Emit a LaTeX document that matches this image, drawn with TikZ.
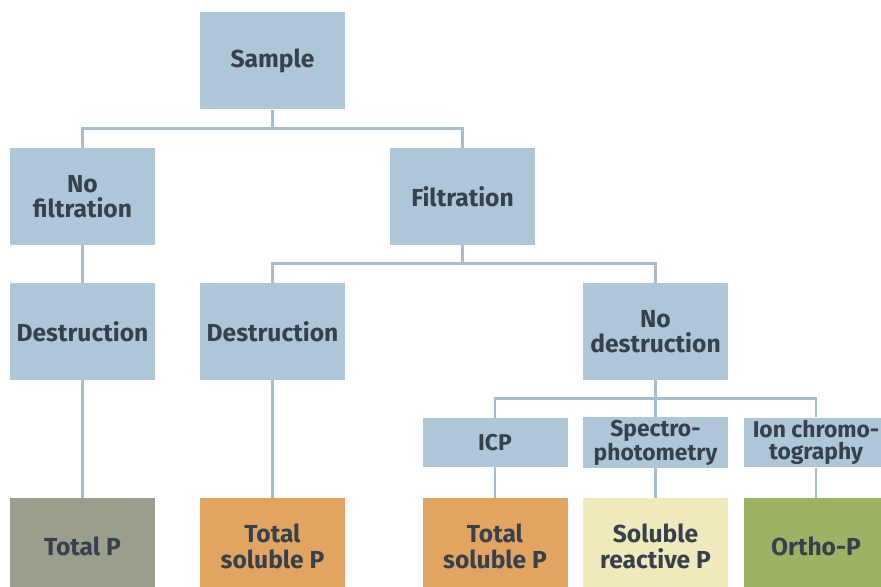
\documentclass[tikz,border=0pt]{standalone}
\usepackage{fontspec}
\setmainfont{Fira Sans}
\usepackage{xcolor}
\usepackage{tikz}
\usetikzlibrary{shapes,positioning}
\definecolor{boxblue}{RGB}{174,199,216}
\definecolor{linkblue}{RGB}{169,188,203}
\definecolor{txt}{RGB}{55,65,78}
\definecolor{totgray}{RGB}{155,157,141}
\definecolor{solorange}{RGB}{226,164,97}
\definecolor{reacyellow}{RGB}{239,233,187}
\definecolor{orthogreen}{RGB}{157,179,100}
\tikzset{stepbox/.style={rectangle,fill=boxblue,text=txt,minimum width=2.9cm,minimum height=1.94cm,inner sep=0.05cm,align=center,font=\fontsize{14}{14.5}\selectfont\bfseries},
         methbox/.style={stepbox,minimum height=0.98cm,font=\fontsize{13}{12.5}\selectfont\bfseries},
         link/.style={draw=linkblue,line width=1.6pt}}

\begin{document}
\begin{tikzpicture}
        \useasboundingbox (0,0) rectangle (17.62,11.72);

        \node[stepbox] (sample) at (5.45,10.5) {Sample};
        \node[stepbox] (nofilt) at (1.65,7.79) {No\\filtration};
        \node[stepbox] (filt) at (9.25,7.79) {Filtration};
        \node[stepbox] (destra) at (1.65,5.09) {Destruction};
        \node[stepbox] (destrb) at (5.45,5.09) {Destruction};
        \node[stepbox] (nodestr) at (13.11,5.09) {No\\destruction};
        \node[methbox] (icp) at (9.9,2.87) {ICP};
        \node[methbox] (spectro) at (13.11,2.87) {Spectro-\\photometry};
        \node[methbox] (ion) at (16.32,2.87) {Ion chromo-\\tography};
        \node[stepbox,fill=totgray] (totp) at (1.65,0.79) {Total P};
        \node[stepbox,fill=solorange] (solpa) at (5.45,0.79) {Total\\soluble P};
        \node[stepbox,fill=solorange] (solpb) at (9.9,0.79) {Total\\soluble P};
        \node[stepbox,fill=reacyellow] (reacp) at (13.11,0.79) {Soluble\\reactive P};
        \node[stepbox,fill=orthogreen] (orthop) at (16.32,0.79) {Ortho-P};

        \draw [link] (sample.south) -- ++(0,-0.38) -| (nofilt.north);
        \draw [link] (sample.south) -- ++(0,-0.38) -| (filt.north);
        \draw [link] (nofilt) -- (destra);
        \draw [link] (filt.south) -- ++(0,-0.37) -| (destrb.north);
        \draw [link] (filt.south) -- ++(0,-0.37) -| (nodestr.north);
        \draw [link] (destra) -- (totp);
        \draw [link] (destrb) -- (solpa);
        \draw [link] (nodestr.south) -- ++(0,-0.37) -| (icp.north);
        \draw [link] (nodestr.south) -- ++(0,-0.37) -| (spectro.north);
        \draw [link] (nodestr.south) -- ++(0,-0.37) -| (ion.north);
        \draw [link] (icp) -- (solpb);
        \draw [link] (spectro) -- (reacp);
        \draw [link] (ion) -- (orthop);
    \end{tikzpicture}
\end{document}
